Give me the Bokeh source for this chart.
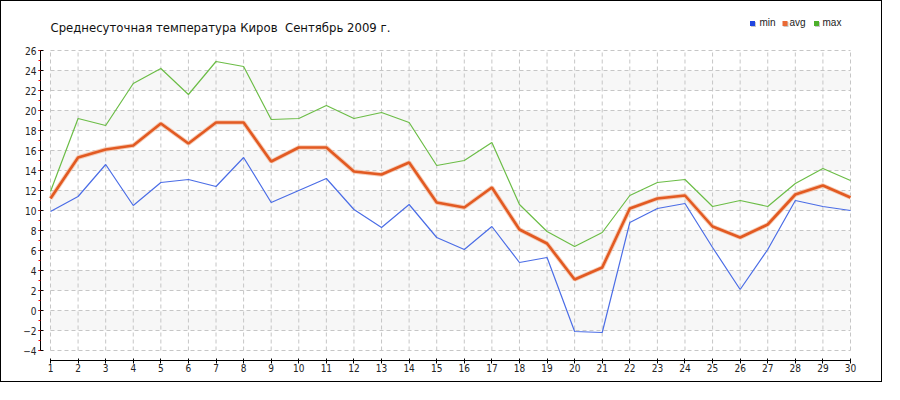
from bokeh.plotting import figure
from bokeh.models import Range1d, FixedTicker, SingleIntervalTicker
from bokeh.core.properties import value
from bokeh.embed import file_html
from bokeh.resources import INLINE

# ---- data ----
days = list(range(1, 31))
t_min = [9.9, 11.4, 14.6, 10.5, 12.8, 13.1, 12.4, 15.3, 10.8, 12.0,
         13.2, 10.1, 8.3, 10.6, 7.3, 6.1, 8.4, 4.8, 5.3, -2.1,
         -2.2, 8.8, 10.2, 10.7, 6.3, 2.1, 6.1, 11.0, 10.4, 10.0]
t_avg = [11.2, 15.3, 16.1, 16.5, 18.7, 16.7, 18.8, 18.8, 14.9, 16.3,
         16.3, 13.9, 13.6, 14.8, 10.8, 10.3, 12.3, 8.1, 6.7, 3.1,
         4.3, 10.2, 11.2, 11.5, 8.4, 7.3, 8.6, 11.6, 12.5, 11.3]
t_max = [11.9, 19.2, 18.5, 22.7, 24.2, 21.6, 24.9, 24.4, 19.1, 19.2,
         20.5, 19.2, 19.8, 18.8, 14.5, 15.0, 16.8, 10.6, 7.9, 6.4,
         7.8, 11.5, 12.8, 13.1, 10.4, 11.0, 10.4, 12.7, 14.2, 13.0]
y_ticks = list(range(-4, 27, 2))
series_names = ["min", "avg", "max"]
title_text = "Среднесуточная температура Киров\u00a0 Сентябрь 2009 г."

# ---- layout constants (reference pixel coords; canvas origin at OFF) ----
OFF = 1
W, H = 882, 382
LEFT = 40 - OFF
BOTTOM = H - (360 - OFF)
PX_PER_DAY = 800 / 29.0
PX_PER_DEG = 10.0
x0 = days[0] - 10 / PX_PER_DAY
x1 = x0 + (W - LEFT) / PX_PER_DAY
y0 = y_ticks[0] - 1
y1 = y0 + (H - BOTTOM) / PX_PER_DEG


def fx(rx):  # reference pixel x -> data x
    return x0 + (rx - OFF - LEFT) / PX_PER_DAY


def fy(ry):  # reference pixel y (from top) -> data y
    return y1 - (ry - OFF) / PX_PER_DEG


FONT = "DejaVu Sans"
AX_FONT = "'Liberation Sans Narrow', 'DejaVu Sans Condensed', 'Liberation Sans'"

p = figure(width=W, height=H, x_range=Range1d(x0, x1), y_range=Range1d(y0, y1),
           output_backend="svg", toolbar_location=None,
           min_border_left=LEFT, min_border_right=0, min_border_top=0,
           min_border_bottom=BOTTOM)
p.styles = {"border": "1px solid black"}
p.outline_line_color = None
p.background_fill_color = "white"
p.border_fill_color = "white"
p.xgrid.visible = False
p.ygrid.visible = False

# alternating bands
band_bottoms = [v for v in range(y_ticks[0] + 2, y_ticks[-1] - 2, 4)]
p.quad(left=days[0], right=days[-1], bottom=band_bottoms,
       top=[b + 2 for b in band_bottoms], fill_color="#f7f7f7", line_color=None)

# dashed grid
p.segment(x0=[days[0]] * len(y_ticks), x1=[days[-1]] * len(y_ticks),
          y0=y_ticks, y1=y_ticks, line_color="#c6c6c6", line_dash="4 3", line_width=1)
p.segment(x0=days, x1=days, y0=[y_ticks[0]] * len(days), y1=[y_ticks[-1]] * len(days),
          line_color="#c6c6c6", line_dash="4 3", line_width=1)

# series
p.line(days, t_min, line_color="#4b6de6", line_width=1.2)
p.line(days, t_max, line_color="#6cbd47", line_width=1.2)
p.line(days, t_avg, line_color="#f4c0a6", line_width=4.5, line_alpha=0.8)
p.line(days, t_avg, line_color="#e25a22", line_width=2.6)

# title
p.text(x=[fx(50)], y=[fy(27)], text=[title_text], text_font=value(FONT),
       text_font_size="11.7px", text_baseline="middle", text_align="left", text_color="#111111")

# legend
leg_colors = ["#2146e0", "#ea6a35", "#4cb02a"]
sq_cx = [752, 784.5, 816]
tx = [759, 789, 822]
p.scatter(x=[fx(c + 1) for c in sq_cx], y=[fy(24)] * 3, marker="square", size=5,
          fill_color="#c8c8c8", line_color=None)
p.scatter(x=[fx(c) for c in sq_cx], y=[fy(23)] * 3, marker="square", size=5,
          fill_color=leg_colors, line_color=None)
p.text(x=[fx(t) for t in tx], y=[fy(22)] * 3, text=series_names, text_font=value("Liberation Sans"),
       text_font_size="10px", text_baseline="middle", text_align="left", text_color="#222222")

# axes
p.xaxis.bounds = (days[0], days[-1])
p.xaxis.ticker = FixedTicker(ticks=days)
p.xaxis.major_tick_out = 3
p.xaxis.major_tick_in = 2
p.xaxis.minor_tick_line_color = None
p.xaxis.major_label_standoff = 0
p.xaxis.axis_line_color = "black"
p.xaxis.major_tick_line_color = "black"
p.xaxis.major_label_text_font = AX_FONT
p.xaxis.major_label_text_font_size = "10px"
p.xaxis.major_label_text_color = "#222222"

p.yaxis.bounds = (y_ticks[0], y_ticks[-1])
p.yaxis.ticker = SingleIntervalTicker(interval=2, num_minor_ticks=2)
p.yaxis.major_tick_out = 2
p.yaxis.major_tick_in = 3
p.yaxis.minor_tick_out = 2
p.yaxis.minor_tick_in = 0
p.yaxis.minor_tick_line_color = "red"
p.yaxis.major_tick_line_color = "black"
p.yaxis.axis_line_color = "black"
p.yaxis.major_label_standoff = 2
p.yaxis.major_label_text_font = AX_FONT
p.yaxis.major_label_text_font_size = "10px"
p.yaxis.major_label_text_color = "#222222"

open("out.html", "w").write(file_html(p, INLINE))
